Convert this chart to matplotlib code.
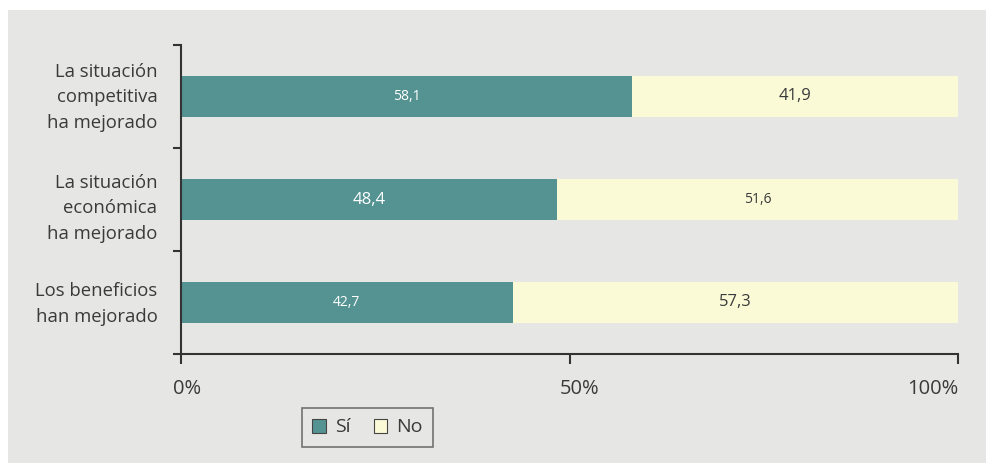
import numpy as np
import matplotlib.pyplot as plt
from matplotlib.patches import Rectangle, Patch
from matplotlib.transforms import ScaledTranslation

plt.rcParams['font.family'] = ['Open Sans', 'DejaVu Sans']

categories = ['La situación\ncompetitiva\nha mejorado',
              'La situación\neconómica\nha mejorado',
              'Los beneficios\nhan mejorado']
si = [58.1, 48.4, 42.7]
no = [41.9, 51.6, 57.3]
series_names = ['Sí', 'No']
x_ticks = [0, 50, 100]
x_ticklabels = ['0%', '50%', '100%']

teal = '#559393'
cream = '#fafad7'
bg = '#e6e6e5'
ink = '#3a3a3a'

# label sizes per bar (Sí, No)
si_sizes = [10, 12, 10]
no_sizes = [12, 10, 12]

fig = plt.figure(figsize=(9.86, 4.63), dpi=100)
fig.patch.set_facecolor('white')
fig.patches.append(Rectangle((8 / 986, 0), 1, 1 - 10 / 463, transform=fig.transFigure,
                             facecolor=bg, edgecolor='none', zorder=-10))

ax = fig.add_axes([181 / 986, 1 - 354 / 463, 777 / 986, 309 / 463])
ax.set_facecolor('none')

y = np.arange(len(categories))[::-1]
ax.barh(y, si, height=0.405, color=teal, edgecolor='none')
ax.barh(y, no, left=si, height=0.405, color=cream, edgecolor='none')

for yi, s, n, ss, ns in zip(y, si, no, si_sizes, no_sizes):
    ax.text(s / 2, yi, f'{s:.1f}'.replace('.', ','), ha='center', va='center',
            color='white', fontsize=ss)
    ax.text(s + n / 2, yi, f'{n:.1f}'.replace('.', ','), ha='center', va='center',
            color=ink, fontsize=ns)

ax.set_xlim(0, 100)
ax.set_ylim(-0.5, 2.5)

ax.set_yticks(y)
ax.set_yticklabels(categories, fontsize=13.3, color=ink, ha='right', linespacing=1.56)
ax.set_yticks(np.arange(-0.5, 3, 1), minor=True)
ax.tick_params(axis='y', which='major', length=0, pad=17)
ax.tick_params(axis='y', which='minor', length=6, width=1.5, color='#333333', direction='out')
# vertical nudges for the category labels (px)
label_dy = [5, -3, 4]
for lab, dy in zip(ax.get_yticklabels(), label_dy):
    lab.set_transform(lab.get_transform() + ScaledTranslation(0, dy / 100, fig.dpi_scale_trans))

ax.set_xticks(x_ticks)
ax.set_xticklabels(x_ticklabels, fontsize=14.5, color=ink)
ax.tick_params(axis='x', length=7, width=1.5, color='#333333', direction='out', pad=11)
# nudge the percentage labels to sit as in the layout
shifts = [6, 10, 0]
for lab, dx in zip(ax.get_xticklabels(), shifts):
    lab.set_transform(lab.get_transform() + ScaledTranslation(dx / 100, 0, fig.dpi_scale_trans))
ax.get_xticklabels()[-1].set_ha('right')

for side in ['top', 'right']:
    ax.spines[side].set_visible(False)
for side in ['left', 'bottom']:
    ax.spines[side].set_color('#333333')
    ax.spines[side].set_linewidth(1.5)

handles = [Patch(facecolor=teal, edgecolor='#444444', linewidth=0.8),
           Patch(facecolor=cream, edgecolor='#444444', linewidth=0.8)]
leg = fig.legend(handles, series_names, loc='center', bbox_to_anchor=(367.5 / 986, 1 - 427.5 / 463),
                 ncol=2, frameon=True, fancybox=False, fontsize=14, handlelength=0.7,
                 handleheight=0.7, handletextpad=0.45, columnspacing=1.2, borderpad=0.55)
leg.get_frame().set_edgecolor('#555555')
leg.get_frame().set_facecolor(bg)
leg.get_frame().set_linewidth(1.2)
for t in leg.get_texts():
    t.set_color(ink)

fig.savefig('out.png', dpi=100)
